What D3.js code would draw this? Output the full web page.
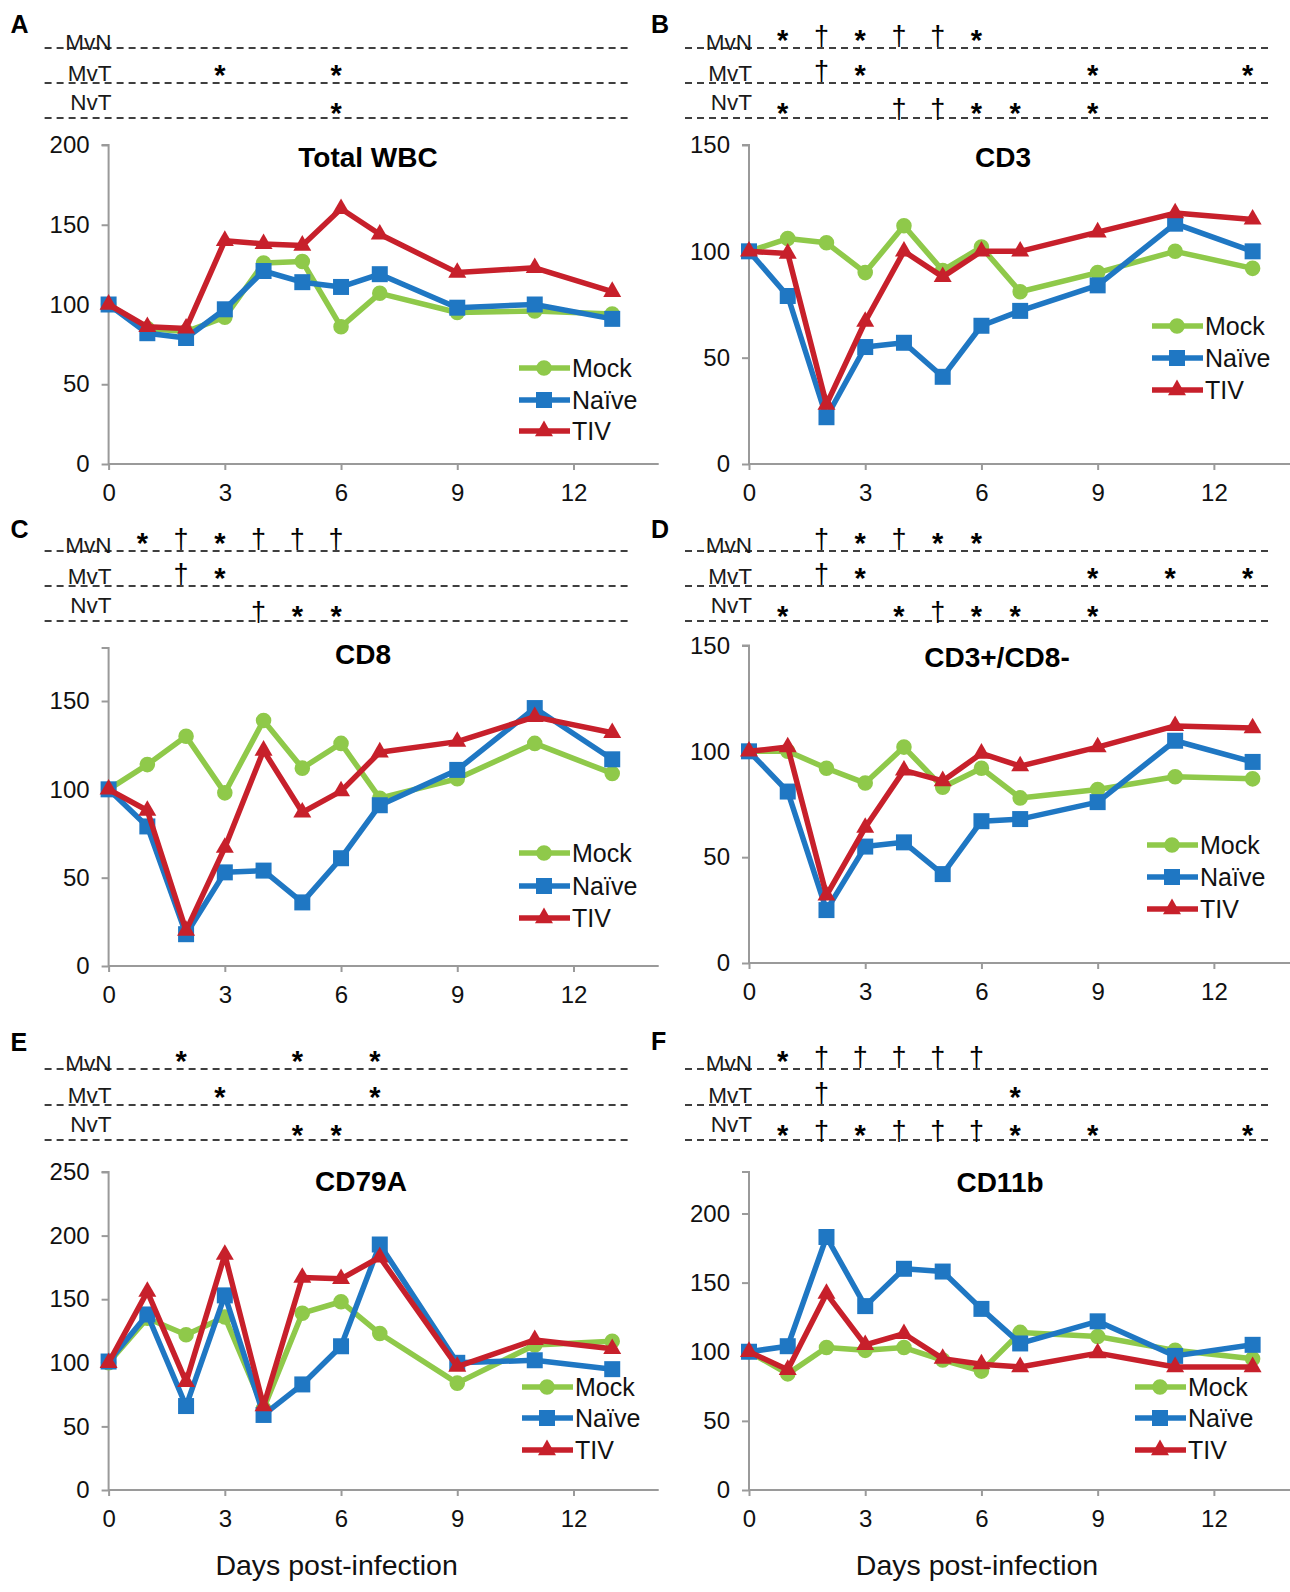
<!DOCTYPE html>
<html>
<head>
<meta charset="utf-8">
<script src="https://cdn.jsdelivr.net/npm/d3@7"></script>
<style>
  body { margin: 0; background: #fff; }
  svg { display: block; font-family: "Liberation Sans", Arial, sans-serif; }
</style>
</head>
<body>
<div id="chart"></div>
<script>
// days sampled
var days = [0, 1, 2, 3, 4, 5, 6, 7, 9, 11, 13];
var groups = ['Mock', 'Naïve', 'TIV'];
var rows = ['MvN', 'MvT', 'NvT'];

// A - Total WBC
var wbcMock = [100, 85, 83, 92, 126, 127, 86, 107, 95, 96, 94];
var wbcNaive = [100, 82, 79, 97, 121, 114, 111, 119, 98, 100, 91];
var wbcTiv = [100, 86, 85, 140, 138, 137, 160, 144, 120, 123, 108];
var wbcSig = [['MvT', 3, '*'], ['MvT', 6, '*'], ['NvT', 6, '*']];

// B - CD3
var cd3Mock = [100, 106, 104, 90, 112, 91, 102, 81, 90, 100, 92];
var cd3Naive = [100, 79, 22, 55, 57, 41, 65, 72, 84, 113, 100];
var cd3Tiv = [100, 99, 28, 67, 100, 88, 100, 100, 109, 118, 115];
var cd3Sig = [['MvN', 1, '*'], ['MvN', 2, '†'], ['MvN', 3, '*'], ['MvN', 4, '†'], ['MvN', 5, '†'], ['MvN', 6, '*'],
              ['MvT', 2, '†'], ['MvT', 3, '*'], ['MvT', 9, '*'], ['MvT', 13, '*'],
              ['NvT', 1, '*'], ['NvT', 4, '†'], ['NvT', 5, '†'], ['NvT', 6, '*'], ['NvT', 7, '*'], ['NvT', 9, '*']];

// C - CD8
var cd8Mock = [100, 114, 130, 98, 139, 112, 126, 95, 106, 126, 109];
var cd8Naive = [100, 79, 18, 53, 54, 36, 61, 91, 111, 146, 117];
var cd8Tiv = [100, 88, 20, 67, 122, 87, 99, 121, 127, 141, 132];
var cd8Sig = [['MvN', 1, '*'], ['MvN', 2, '†'], ['MvN', 3, '*'], ['MvN', 4, '†'], ['MvN', 5, '†'], ['MvN', 6, '†'],
              ['MvT', 2, '†'], ['MvT', 3, '*'],
              ['NvT', 4, '†'], ['NvT', 5, '*'], ['NvT', 6, '*']];

// D - CD3+/CD8-
var cd4Mock = [100, 100, 92, 85, 102, 83, 92, 78, 82, 88, 87];
var cd4Naive = [100, 81, 25, 55, 57, 42, 67, 68, 76, 105, 95];
var cd4Tiv = [100, 102, 32, 64, 91, 86, 99, 93, 102, 112, 111];
var cd4Sig = [['MvN', 2, '†'], ['MvN', 3, '*'], ['MvN', 4, '†'], ['MvN', 5, '*'], ['MvN', 6, '*'],
              ['MvT', 2, '†'], ['MvT', 3, '*'], ['MvT', 9, '*'], ['MvT', 11, '*'], ['MvT', 13, '*'],
              ['NvT', 1, '*'], ['NvT', 4, '*'], ['NvT', 5, '†'], ['NvT', 6, '*'], ['NvT', 7, '*'], ['NvT', 9, '*']];

// E - CD79A
var cd79Mock = [100, 135, 122, 136, 64, 139, 148, 123, 84, 114, 117];
var cd79Naive = [101, 138, 66, 153, 59, 83, 113, 193, 100, 102, 95];
var cd79Tiv = [100, 156, 85, 185, 66, 167, 166, 183, 97, 118, 111];
var cd79Sig = [['MvN', 2, '*'], ['MvN', 5, '*'], ['MvN', 7, '*'],
               ['MvT', 3, '*'], ['MvT', 7, '*'],
               ['NvT', 5, '*'], ['NvT', 6, '*']];

// F - CD11b
var cd11Mock = [100, 84, 103, 101, 103, 94, 86, 114, 111, 101, 95];
var cd11Naive = [100, 104, 183, 133, 160, 158, 131, 106, 122, 97, 105];
var cd11Tiv = [100, 87, 142, 105, 113, 95, 91, 89, 99, 89, 89];
var cd11Sig = [['MvN', 1, '*'], ['MvN', 2, '†'], ['MvN', 3, '†'], ['MvN', 4, '†'], ['MvN', 5, '†'], ['MvN', 6, '†'],
               ['MvT', 2, '†'], ['MvT', 7, '*'],
               ['NvT', 1, '*'], ['NvT', 2, '†'], ['NvT', 3, '*'], ['NvT', 4, '†'], ['NvT', 5, '†'], ['NvT', 6, '†'],
               ['NvT', 7, '*'], ['NvT', 9, '*'], ['NvT', 13, '*']];

var colors = ['#8fc94a', '#1f77c3', '#c7202b'];
var axisColor = '#9a9a9a';
var font = '"Liberation Sans", Arial, sans-serif';

// panel layout (pixels)
var panels = [
    {letter: 'A', title: 'Total WBC', series: [wbcMock, wbcNaive, wbcTiv], sig: wbcSig, yMax: 200,
     ax: 108.6, yTop: 145, y0: 464, rowY: [48, 83, 118], titleX: 368, titleY: 167, letterY: 33,
     legX: 519, legY: [368, 400, 431]},
    {letter: 'B', title: 'CD3', series: [cd3Mock, cd3Naive, cd3Tiv], sig: cd3Sig, yMax: 150,
     ax: 749, yTop: 145, y0: 464, rowY: [48, 83, 118], titleX: 1003, titleY: 167, letterY: 33,
     legX: 1152, legY: [326, 358, 390]},
    {letter: 'C', title: 'CD8', series: [cd8Mock, cd8Naive, cd8Tiv], sig: cd8Sig, yMax: 180,
     ax: 108.6, yTop: 648, y0: 966, rowY: [551, 586, 621], titleX: 363, titleY: 664, letterY: 538,
     legX: 519, legY: [853, 886, 918]},
    {letter: 'D', title: 'CD3+/CD8-', series: [cd4Mock, cd4Naive, cd4Tiv], sig: cd4Sig, yMax: 150,
     ax: 749, yTop: 645.5, y0: 963, rowY: [551, 586, 621], titleX: 997, titleY: 667, letterY: 538,
     legX: 1147, legY: [845, 877, 909]},
    {letter: 'E', title: 'CD79A', series: [cd79Mock, cd79Naive, cd79Tiv], sig: cd79Sig, yMax: 250,
     ax: 108.6, yTop: 1172, y0: 1490, rowY: [1069, 1105, 1140], titleX: 361, titleY: 1191, letterY: 1051,
     legX: 522, legY: [1387, 1418, 1450], xTitle: true},
    {letter: 'F', title: 'CD11b', series: [cd11Mock, cd11Naive, cd11Tiv], sig: cd11Sig, yMax: 230,
     ax: 749, yTop: 1172, y0: 1490, rowY: [1069, 1105, 1140], titleX: 1000, titleY: 1192, letterY: 1050,
     legX: 1135, legY: [1387, 1418, 1450], xTitle: true}
];

var svg = d3.select('#chart').append('svg')
.attr('width', 1290)
.attr('height', 1592);

var dayWidth = 38.74;

var markerPath = function (i) {
    var type = [d3.symbolCircle, d3.symbolSquare, d3.symbolTriangle][i];
    var size = [190, 256, 140][i];
    return d3.symbol().type(type).size(size)();
};

panels.forEach(function (p) {
    var g = svg.append('g');
    var x = d3.scaleLinear().domain([0, 14.2]).range([p.ax, p.ax + 14.2 * dayWidth]);
    var y = d3.scaleLinear().domain([0, p.yMax]).range([p.y0, p.yTop]);

    // panel letter
    g.append('text')
    .attr('x', p.ax - 98)
    .attr('y', p.letterY)
    .attr('font-size', 25)
    .attr('font-weight', 'bold')
    .text(p.letter);

    // significance rows
    rows.forEach(function (r, ri) {
        g.append('line')
        .attr('x1', p.ax - 64)
        .attr('x2', p.ax + 520)
        .attr('y1', p.rowY[ri])
        .attr('y2', p.rowY[ri])
        .attr('stroke', '#000')
        .attr('stroke-width', 1.5)
        .attr('stroke-dasharray', '7,5');
        var labelOffset = [2, -2, -8][ri];
        g.append('text')
        .attr('x', p.ax + 3)
        .attr('y', p.rowY[ri] + labelOffset)
        .attr('text-anchor', 'end')
        .attr('font-size', 22.5)
        .attr('fill', '#1a1a1a')
        .text(r);
    });

    g.selectAll('.sig')
    .data(p.sig)
    .enter()
    .append('text')
    .attr('class', 'sig')
    .attr('x', function (d) { return x(d[1]) - 5; })
    .attr('y', function (d) {
        var ri = rows.indexOf(d[0]);
        var base = p.rowY[ri] + [0, 0, 3][ri];
        return d[2] === '*' ? base + 2 : base - 3.5;
    })
    .attr('text-anchor', 'middle')
    .attr('font-weight', function (d) { return d[2] === '*' ? 'bold' : 'normal'; })
    .attr('font-size', function (d) { return d[2] === '*' ? 29 : 27; })
    .text(function (d) { return d[2]; });

    // axes
    var yAxis = d3.axisLeft(y)
    .tickValues(d3.range(0, p.yMax + 1, 50))
    .tickSize(7)
    .tickPadding(12);
    var xAxis = d3.axisBottom(x)
    .tickValues([0, 3, 6, 9, 12])
    .tickSize(6)
    .tickPadding(14);

    var ya = g.append('g')
    .attr('transform', 'translate(' + p.ax + ',0)')
    .call(yAxis);
    var xa = g.append('g')
    .attr('transform', 'translate(0,' + p.y0 + ')')
    .call(xAxis);

    [ya, xa].forEach(function (a) {
        a.select('.domain').attr('stroke', axisColor).attr('stroke-width', 2);
        a.selectAll('.tick line').attr('stroke', axisColor).attr('stroke-width', 2);
        a.selectAll('.tick text')
        .attr('fill', '#111')
        .attr('font-size', 24)
        .attr('font-family', font);
    });
    // drop the outer tick ends so the axes meet like the original
    ya.select('.domain').attr('d', 'M-7,' + p.yTop + 'H0V' + p.y0);
    xa.select('.domain').attr('d', 'M' + p.ax + ',0H' + x(14.2));

    // title
    g.append('text')
    .attr('x', p.titleX)
    .attr('y', p.titleY)
    .attr('text-anchor', 'middle')
    .attr('font-size', 28)
    .attr('font-weight', 'bold')
    .text(p.title);

    // series
    p.series.forEach(function (vals, si) {
        var pts = days.map(function (d, i) { return [d, vals[i]]; });
        var line = d3.line()
        .x(function (d) { return x(d[0]); })
        .y(function (d) { return y(d[1]); });
        g.append('path')
        .datum(pts)
        .attr('d', line)
        .attr('fill', 'none')
        .attr('stroke', colors[si])
        .attr('stroke-width', 5.5)
        .attr('stroke-linejoin', 'round');
        g.selectAll('.m' + si)
        .data(pts)
        .enter()
        .append('path')
        .attr('class', 'm' + si)
        .attr('d', markerPath(si))
        .attr('transform', function (d) { return 'translate(' + x(d[0]) + ',' + y(d[1]) + ')'; })
        .attr('fill', colors[si]);
    });

    // legend
    groups.forEach(function (name, si) {
        var ly = p.legY[si];
        g.append('line')
        .attr('x1', p.legX)
        .attr('x2', p.legX + 51)
        .attr('y1', ly)
        .attr('y2', ly)
        .attr('stroke', colors[si])
        .attr('stroke-width', 5.5);
        g.append('path')
        .attr('d', markerPath(si))
        .attr('transform', 'translate(' + (p.legX + 25) + ',' + ly + ')')
        .attr('fill', colors[si]);
        g.append('text')
        .attr('x', p.legX + 53)
        .attr('y', ly + 9)
        .attr('font-size', 25)
        .attr('fill', '#111')
        .text(name);
    });

    if (p.xTitle) {
        g.append('text')
        .attr('x', p.ax + 228)
        .attr('y', 1575)
        .attr('text-anchor', 'middle')
        .attr('font-size', 28.5)
        .attr('fill', '#111')
        .text('Days post-infection');
    }
});
</script>
</body>
</html>
